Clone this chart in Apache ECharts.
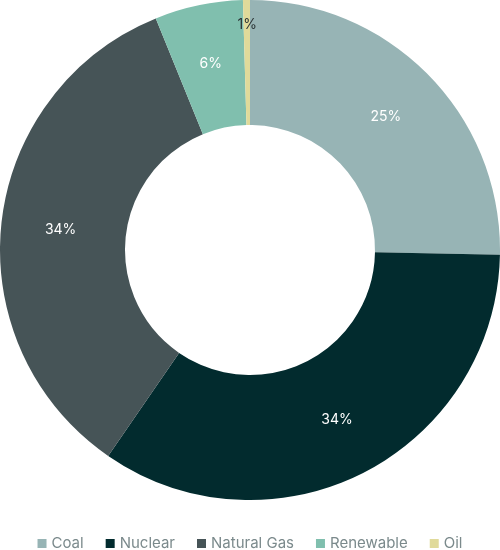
<!DOCTYPE html>
<html>
<head>
<meta charset="utf-8">
<script src="https://cdn.jsdelivr.net/npm/echarts@6/dist/echarts.min.js"></script>
<style>
    html, body { margin: 0; padding: 0; background: #fff; }
</style>
</head>
<body>
<!-- 图表容器 -->
<div id="main" style="width: 500px;height:550px;"></div>
<script>
    // 数据
    var categories = ['Coal', 'Nuclear', 'Natural Gas', 'Renewable', 'Oil'];
    var shares = [25.3, 34.3, 34.25, 5.7, 0.45];
    var colors = ['#97b4b5', '#022b2e', '#465457', '#80bfae', '#e0da9a'];

    var pieData = categories.map(function (name, i) {
        var item = { name: name, value: shares[i] };
        if (name === 'Oil') {
            item.label = { color: '#2b3436' };
        }
        return item;
    });

    var myChart = echarts.init(document.getElementById('main'));

    var option = {
        color: colors,
        animation: false,
        legend: {
            top: 536,
            left: 'center',
            padding: 0,
            icon: 'rect',
            itemWidth: 9,
            itemHeight: 9,
            itemGap: 22,
            textStyle: {
                color: '#7b8a8c',
                fontSize: 15,
                fontFamily: 'Inter'
            },
            data: categories
        },
        series: [
            {
                type: 'pie',
                center: [250, 250],
                radius: [125, 250],
                startAngle: 90,
                percentPrecision: 0,
                avoidLabelOverlap: false,
                label: {
                    show: true,
                    position: 'inside',
                    formatter: '{d}%',
                    color: '#fff',
                    fontSize: 14,
                    fontFamily: 'Inter'
                },
                labelLine: { show: false },
                // Oil 标签放在外缘
                labelLayout: function (params) {
                    if (params.dataIndex === 4) {
                        return { dy: -35 };
                    }
                    return {};
                },
                data: pieData
            }
        ]
    };

    myChart.setOption(option);
</script>
</body>
</html>
